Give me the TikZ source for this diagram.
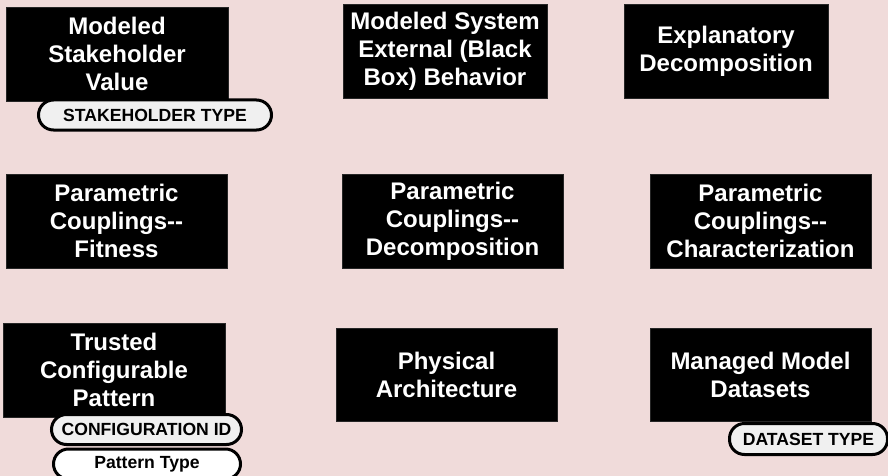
\documentclass[tikz,border=0pt]{standalone}
\usepackage{fontspec}
\setmainfont{Liberation Sans}
\definecolor{bgpink}{RGB}{240,219,218}
\definecolor{pillgray}{RGB}{240,240,240}
\begin{document}
\begin{tikzpicture}[x=1pt,y=-1pt,
  blk/.style={rectangle,fill=black,draw=black!85,line width=0.6pt,inner sep=0pt,
    text=white,align=center,font=\fontsize{24}{28}\selectfont\bfseries},
  pill/.style={rectangle,rounded corners=15pt,draw=black,line width=3pt,fill=pillgray,
    inner sep=0pt,minimum height=30pt,text=black,font=\fontsize{17.6}{20}\selectfont\bfseries}]
\fill[bgpink] (0,0) rectangle (888,476);
\useasboundingbox (0,0) rectangle (888,476);
\node[blk,minimum width=222pt,minimum height=94pt] (b1) at (117,54) {Modeled\\Stakeholder\\Value};
\node[blk,minimum width=204pt,minimum height=94pt] (b2) at (445,51) {Modeled System\\External (Black\\Box) Behavior};
\node[blk,minimum width=204pt,minimum height=94pt] (b3) at (726,51) {Explanatory\\Decomposition};
\node[blk,minimum width=221pt,minimum height=94pt] (b4) at (116.5,221) {Parametric\\Couplings-{}-\\Fitness};
\node[blk,minimum width=221pt,minimum height=94pt] (b5) at (452.5,221) {Parametric\\Couplings-{}-\\Decomposition};
\node[blk,minimum width=221pt,minimum height=94pt] (b6) at (760.5,221) {Parametric\\Couplings-{}-\\Characterization};
\node[blk,minimum width=222pt,minimum height=94pt] (b7) at (114,370) {Trusted\\Configurable\\Pattern};
\node[blk,minimum width=221pt,minimum height=93pt] (b8) at (446.5,374.5) {Physical\\Architecture};
\node[blk,minimum width=221pt,minimum height=93pt] (b9) at (760.5,374.5) {Managed Model\\Datasets};
\node[pill,minimum width=233pt] (p1) at (155,115) {STAKEHOLDER TYPE};
\node[pill,minimum width=190pt] (p2) at (146.5,429.5) {CONFIGURATION ID};
\node[pill,minimum width=187pt,fill=white] (p3) at (147,464) {Pattern Type};
\node[pill,minimum width=158pt,minimum height=31pt] (p4) at (808.5,439) {DATASET TYPE};
\end{tikzpicture}
\end{document}
